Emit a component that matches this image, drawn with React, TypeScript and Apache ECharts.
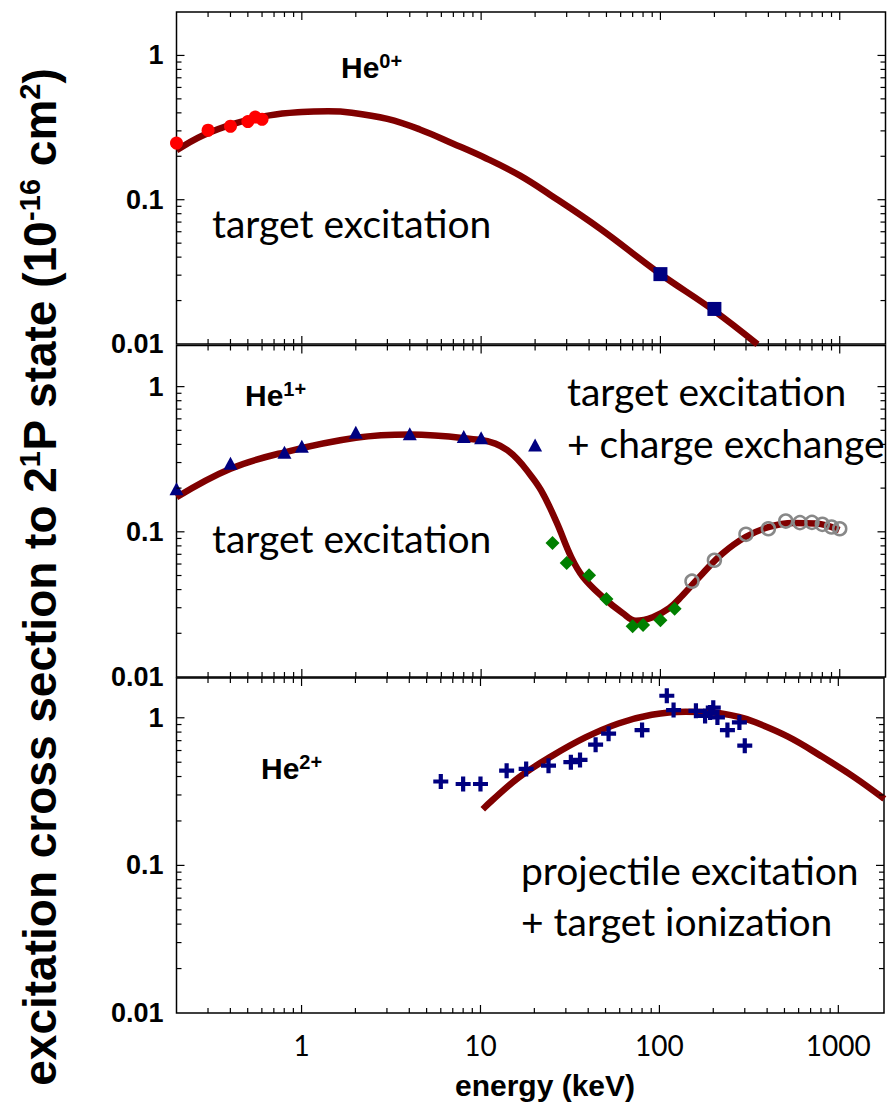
import React, { useEffect, useRef } from "react";
import * as echarts from "echarts";

// ---- He0+ (neutral projectile): target excitation ----
const he0LowEnergy = [0.2, 0.3, 0.4, 0.5, 0.55, 0.6];
const he0LowSigma = [0.247, 0.303, 0.323, 0.348, 0.374, 0.361];
const he0HighEnergy = [100, 200];
const he0HighSigma = [0.0305, 0.0175];
const he0FitEnergy = [0.2, 0.28, 0.43, 0.66, 1.0, 1.4, 1.9, 3.0, 4.55, 6.94, 10.7, 16.4, 24.1, 45.8, 99, 198, 348];
const he0FitSigma = [0.22, 0.279, 0.34, 0.384, 0.405, 0.41, 0.401, 0.363, 0.307, 0.2455, 0.1932, 0.1474, 0.1088, 0.0633, 0.0308, 0.0171, 0.00994];

// ---- He1+ : target excitation + charge exchange ----
const he1TriEnergy = [0.2, 0.4, 0.8, 1, 2, 4, 8, 10, 20];
const he1TriSigma = [0.198, 0.297, 0.353, 0.389, 0.485, 0.473, 0.453, 0.444, 0.397];
const he1DiaEnergy = [25, 30, 40, 50, 70, 80, 100, 120];
const he1DiaSigma = [0.0838, 0.061, 0.0502, 0.0344, 0.0224, 0.0228, 0.0246, 0.0295];
const he1CircEnergy = [150, 200, 300, 400, 500, 600, 700, 800, 900, 1000];
const he1CircSigma = [0.0457, 0.0637, 0.0961, 0.105, 0.1186, 0.1157, 0.1162, 0.1126, 0.108, 0.105];
const he1FitEnergy = [0.2, 0.4, 0.8, 2, 4, 9.8, 12, 14, 16, 18, 21.6, 26.3, 31.8, 37, 47.5, 61.6, 73, 90.5, 112, 133, 172, 222, 300, 404, 547, 737, 994];
const he1FitSigma = [0.173, 0.272, 0.353, 0.444, 0.468, 0.43, 0.405, 0.365, 0.315, 0.265, 0.193, 0.117, 0.067, 0.0489, 0.0357, 0.0275, 0.0244, 0.0258, 0.0298, 0.0366, 0.0517, 0.0709, 0.0924, 0.108, 0.115, 0.114, 0.103];

// ---- He2+ : projectile excitation + target ionization ----
const he2Energy = [6, 8, 10, 14, 18, 24, 32, 36, 44, 52, 80, 110, 120, 160, 180, 192, 200, 211, 240, 280, 300];
const he2Sigma = [0.37, 0.356, 0.356, 0.438, 0.45, 0.474, 0.5, 0.518, 0.657, 0.78, 0.826, 1.41, 1.127, 1.115, 1.03, 1.086, 1.17, 1.005, 0.826, 0.93, 0.647];
const he2FitEnergy = [10.3, 11.6, 16.4, 25, 38.6, 59, 90.6, 140, 200, 275, 341, 523, 802, 1231, 1808];
const he2FitSigma = [0.24, 0.275, 0.395, 0.55, 0.736, 0.915, 1.048, 1.1, 1.085, 1.016, 0.935, 0.745, 0.55, 0.395, 0.282];

// ---- axes ----
const xRange = [0.2, 1800];
const yMinValue = 0.01;
const panelYMax = [2.0, 1.92, 1.86];
const xMajorTicks = [1, 10, 100, 1000];
const yMajorTicks = [0.1, 1];

const FIT_COLOR = "#800000";
const NAVY = "#000080";
const BOLD_FONT = "Liberation Sans, Arial, sans-serif";
const TEXT_FONT = "Lato, Carlito, sans-serif";
const PLUS_SYMBOL = "path://M3.6,0H6.4V3.6H10V6.4H6.4V10H3.6V6.4H0V3.6H3.6Z";

const zip = (xs: number[], ys: number[]) => xs.map((x, i) => [x, ys[i]]);

function minorTicks(lo: number, hi: number): number[] {
  const out: number[] = [];
  for (let e = -3; e <= 4; e++) {
    for (let m = 2; m <= 9; m++) {
      const v = +(m * Math.pow(10, e)).toPrecision(4);
      if (v > lo * 1.0001 && v < hi * 0.9999) out.push(v);
    }
  }
  return out;
}

const decadeLabel = (v: number) => {
  const e = Math.log10(v);
  const r = Math.round(e);
  return Math.abs(e - r) < 1e-6 ? String(+Math.pow(10, r).toPrecision(3)) : "";
};

function tickSeries(idx: number, yMax: number) {
  const data: number[][] = [];
  xMajorTicks.forEach((v) => data.push([v, yMinValue, 0, 1]));
  minorTicks(xRange[0], xRange[1]).forEach((v) => data.push([v, yMinValue, 0, 0]));
  yMajorTicks.forEach((v) => data.push([xRange[0], v, 1, 1]));
  minorTicks(yMinValue, yMax).forEach((v) => data.push([xRange[0], v, 1, 0]));
  const stroke = { stroke: "#000", lineWidth: 1.2 };
  return {
    type: "custom",
    xAxisIndex: idx,
    yAxisIndex: idx,
    silent: true,
    z: 6,
    encode: { x: 0, y: 1 },
    data,
    renderItem: (_params: any, api: any) => {
      const kind = api.value(2);
      const len = api.value(3) ? 8 : 5;
      if (kind === 0) {
        const v = api.value(0);
        const b = api.coord([v, yMinValue]);
        const t = api.coord([v, yMax]);
        return {
          type: "group",
          children: [
            { type: "line", shape: { x1: b[0], y1: b[1], x2: b[0], y2: b[1] - len }, style: stroke },
            { type: "line", shape: { x1: t[0], y1: t[1], x2: t[0], y2: t[1] + len }, style: stroke },
          ],
        };
      }
      const v = api.value(1);
      const l = api.coord([xRange[0], v]);
      const r = api.coord([xRange[1], v]);
      return {
        type: "group",
        children: [
          { type: "line", shape: { x1: l[0], y1: l[1], x2: l[0] + len, y2: l[1] }, style: stroke },
          { type: "line", shape: { x1: r[0], y1: r[1], x2: r[0] - len, y2: r[1] }, style: stroke },
        ],
      };
    },
  };
}

function fitLine(idx: number, xs: number[], ys: number[]) {
  return {
    type: "line",
    xAxisIndex: idx,
    yAxisIndex: idx,
    data: zip(xs, ys),
    showSymbol: false,
    smooth: 0.4,
    clip: true,
    z: 2,
    lineStyle: { color: FIT_COLOR, width: 6.5 },
    silent: true,
  };
}

function markers(idx: number, xs: number[], ys: number[], symbol: string, size: any, itemStyle: any) {
  return {
    type: "scatter",
    xAxisIndex: idx,
    yAxisIndex: idx,
    data: zip(xs, ys),
    symbol,
    symbolSize: size,
    itemStyle: { opacity: 1, ...itemStyle },
    z: 4,
    silent: true,
  };
}

const annotation = (x: number, y: number, text: string) => ({
  type: "text",
  x,
  y,
  style: { text, fontFamily: TEXT_FONT, fontSize: 39, fill: "#000", align: "left", verticalAlign: "middle" },
});

const ionLabel = (x: number, y: number, charge: string) => ({
  type: "text",
  x,
  y,
  style: {
    text: `{m|He}{s|${charge}}`,
    align: "left",
    verticalAlign: "middle",
    rich: {
      m: { fontFamily: BOLD_FONT, fontWeight: "bold", fontSize: 30, lineHeight: 32, fill: "#000" },
      s: { fontFamily: BOLD_FONT, fontWeight: "bold", fontSize: 20, lineHeight: 13, verticalAlign: "top", fill: "#000" },
    },
  },
});

export default function App() {
  const ref = useRef<HTMLDivElement>(null);

  useEffect(() => {
    if (!ref.current) return;
    const chart = echarts.init(ref.current, undefined, { renderer: "svg" });

    const gridBoxes = [
      { top: 12, height: 332 },
      { top: 345.5, height: 331.5 },
      { top: 678, height: 335 },
    ];

    const option: any = {
      animation: false,
      backgroundColor: "#fff",
      grid: gridBoxes.map((g) => ({
        left: 176.5,
        width: 709,
        top: g.top,
        height: g.height,
        show: true,
        borderColor: "#000",
        borderWidth: 1.5,
        backgroundColor: "transparent",
      })),
      xAxis: [0, 1, 2].map((i) => ({
        type: "log",
        logBase: 10,
        gridIndex: i,
        min: xRange[0],
        max: xRange[1],
        axisLine: { show: false },
        axisTick: { show: false },
        splitLine: { show: false },
        axisLabel: {
          show: i === 2,
          formatter: decadeLabel,
          fontFamily: TEXT_FONT,
          fontSize: 28,
          color: "#000",
          margin: 18,
        },
      })),
      yAxis: [0, 1, 2].map((i) => ({
        type: "log",
        logBase: 10,
        gridIndex: i,
        min: yMinValue,
        max: panelYMax[i],
        axisLine: { show: false },
        axisTick: { show: false },
        splitLine: { show: false },
        axisLabel: {
          formatter: decadeLabel,
          fontFamily: BOLD_FONT,
          fontWeight: "bold",
          fontSize: 27,
          color: "#000",
          margin: 13,
          padding: [14, 0, 0, 0],
        },
      })),
      series: [
        fitLine(0, he0FitEnergy, he0FitSigma),
        markers(0, he0LowEnergy, he0LowSigma, "circle", 13, { color: "#ff0000" }),
        markers(0, he0HighEnergy, he0HighSigma, "rect", 14, { color: NAVY }),

        fitLine(1, he1FitEnergy, he1FitSigma),
        markers(1, he1TriEnergy, he1TriSigma, "triangle", [14, 13], { color: NAVY }),
        markers(1, he1DiaEnergy, he1DiaSigma, "diamond", 14, { color: "#008000" }),
        markers(1, he1CircEnergy, he1CircSigma, "circle", 13, {
          color: "rgba(0,0,0,0)",
          borderColor: "#888888",
          borderWidth: 2.5,
        }),

        fitLine(2, he2FitEnergy, he2FitSigma),
        markers(2, he2Energy, he2Sigma, PLUS_SYMBOL, 15, { color: NAVY }),

        tickSeries(0, panelYMax[0]),
        tickSeries(1, panelYMax[1]),
        tickSeries(2, panelYMax[2]),
      ],
      graphic: [
        annotation(212, 223, "target excitation"),
        annotation(567, 391, "target excitation"),
        annotation(567, 443, "+ charge exchange"),
        annotation(212, 538, "target excitation"),
        annotation(521, 870, "projectile excitation"),
        annotation(521, 921, "+ target ionization"),
        ionLabel(341, 67, "0+"),
        ionLabel(245, 395, "1+"),
        ionLabel(261, 768, "2+"),
        {
          type: "text",
          x: 545,
          y: 1085,
          style: {
            text: "energy (keV)",
            fontFamily: BOLD_FONT,
            fontWeight: "bold",
            fontSize: 30,
            fill: "#000",
            align: "center",
            verticalAlign: "middle",
          },
        },
        {
          type: "text",
          x: 40,
          y: 577,
          rotation: Math.PI / 2,
          style: {
            text: "{m|excitation cross section to 2}{s|1}{m|P state (10}{s|-16}{m| cm}{s|2}{m|)}",
            align: "center",
            verticalAlign: "middle",
            rich: {
              m: { fontFamily: BOLD_FONT, fontWeight: "bold", fontSize: 46, lineHeight: 50, fill: "#000" },
              s: { fontFamily: BOLD_FONT, fontWeight: "bold", fontSize: 29, lineHeight: 32, verticalAlign: "top", fill: "#000" },
            },
          },
        },
      ],
    };

    chart.setOption(option);
    return () => chart.dispose();
  }, []);

  return (
    <div
      ref={ref}
      style={{ position: "absolute", left: 0, top: 0, width: 887, height: 1104, background: "#fff" }}
    />
  );
}
